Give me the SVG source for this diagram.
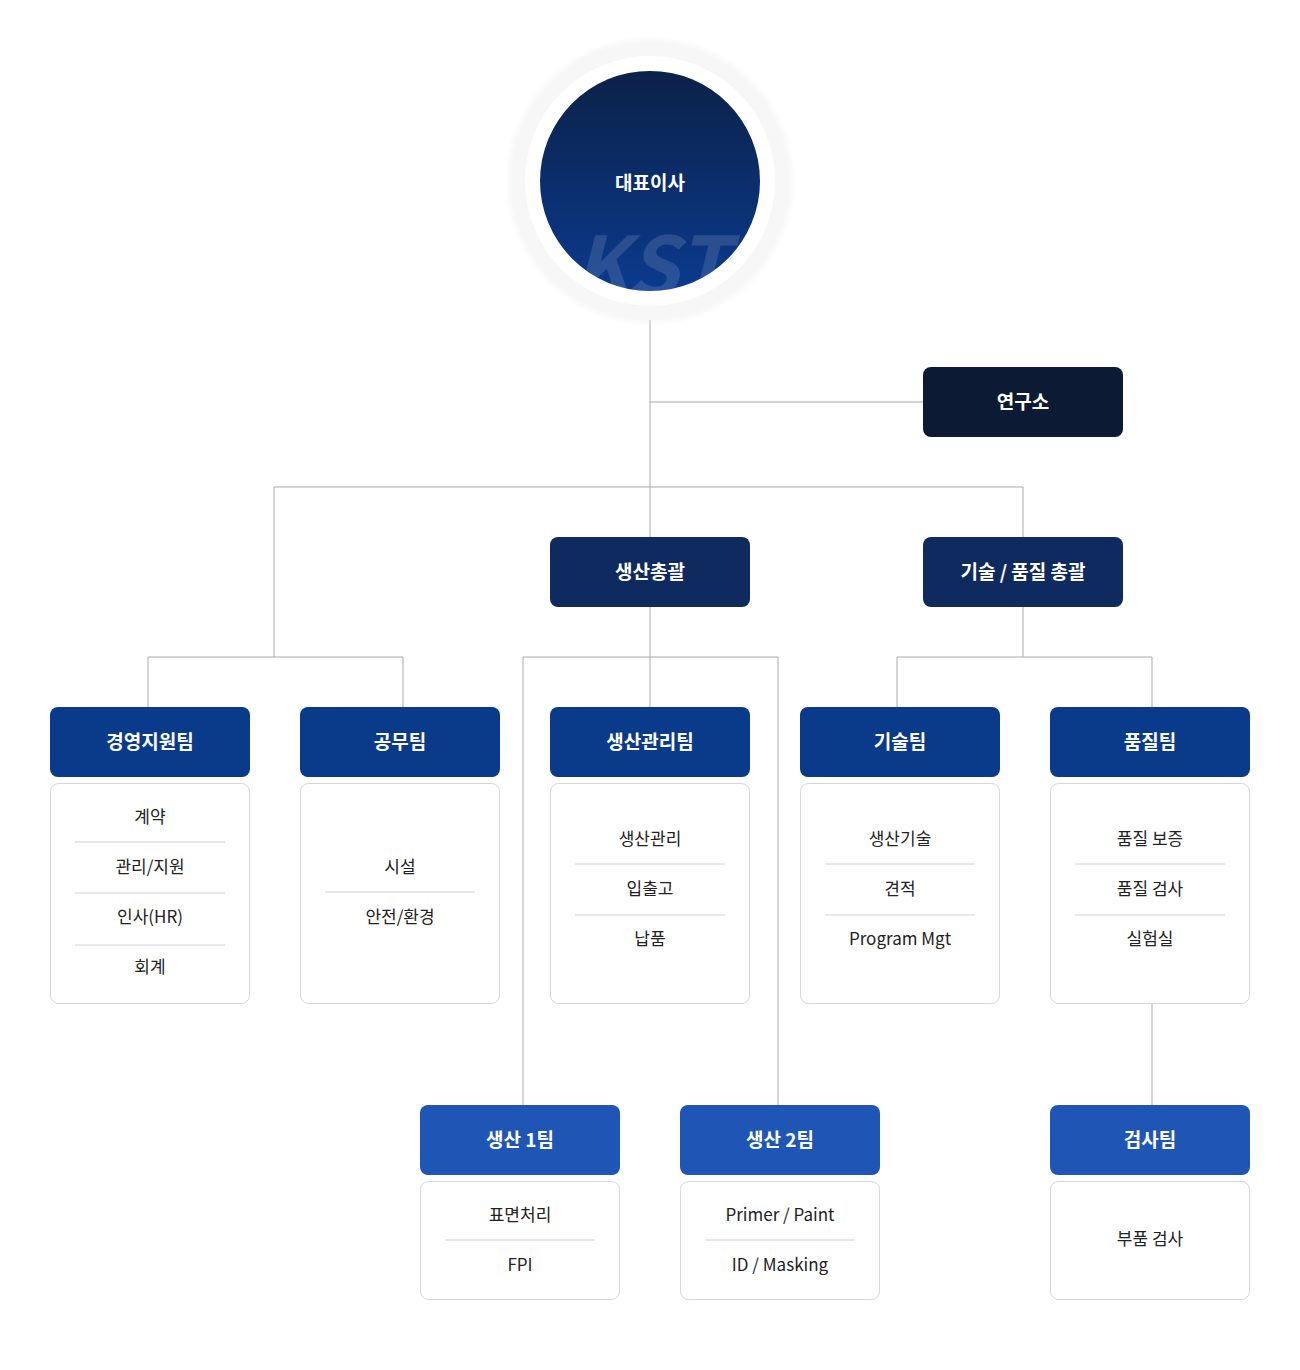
<svg xmlns="http://www.w3.org/2000/svg" width="1300" height="1370" viewBox="0 0 1300 1370">
<defs>
<style>
text{font-family:"Noto Sans CJK KR","Noto Sans",sans-serif;text-anchor:middle}
.h{fill:#fff;font-size:19px;font-weight:700}
.i{fill:#222;font-size:17px}
.d{fill:#fff;stroke:#d4d6da;stroke-width:1}
.s{stroke:#cfd2d6;stroke-width:1}
.c path{fill:none;stroke:#a8abb0;stroke-width:1}
</style>
<linearGradient id="g" x1="0" y1="0" x2="0" y2="1"><stop offset="0" stop-color="#0b2148"/><stop offset="1" stop-color="#0b3a8e"/></linearGradient>
<radialGradient id="sh"><stop offset="0.85" stop-color="#e6e8ec"/><stop offset="1" stop-color="#e6e8ec" stop-opacity="0"/></radialGradient>
<clipPath id="cc"><circle cx="650" cy="181" r="110"/></clipPath>
</defs>
<rect width="1300" height="1370" fill="#fff"/>
<g class="c">
<path d="M650 320V707M650 402H923M274 487H1023M274 487V657M148 657H403M148 657V707M403 657V707M1023 487V537M1023 607V657M897 657H1152M897 657V707M1152 657V707M523 657H778M523 657V1105M778 657V1105M1152 1004V1105"/>
</g>
<g id="ceo">
<circle cx="650" cy="181" r="146" fill="url(#sh)"/>
<circle cx="650" cy="181" r="138" fill="#f7f7f8"/>
<circle cx="650" cy="181" r="125" fill="#fff"/>
<circle cx="650" cy="181" r="110" fill="url(#g)"/>
<g clip-path="url(#cc)"><text x="650" y="296" font-family="Liberation Sans" font-size="82" font-weight="700" font-style="italic" fill="#fff" fill-opacity="0.13">KST</text></g>
<text x="650" y="190" class="h" font-size="24">대표이사</text>
</g>
<g id="lab"><rect x="923" y="367" width="200" height="70" rx="8" fill="#0c1a33"/><text x="1023" y="409" class="h">연구소</text></g>
<g id="prod"><rect x="550" y="537" width="200" height="70" rx="8" fill="#0f2a5e"/><text x="650" y="579" class="h">생산총괄</text></g>
<g id="tech"><rect x="923" y="537" width="200" height="70" rx="8" fill="#0f2a5e"/><text x="1023" y="579" class="h">기술 / 품질 총괄</text></g>
<g id="mgmt"><rect x="50" y="707" width="200" height="70" rx="8" fill="#0a3a8a"/><text x="150" y="749" class="h">경영지원팀</text>
<rect class="d" x="50.5" y="783.5" width="199" height="220" rx="8"/>
<path class="s" d="M75 842H225M75 893H225M75 945H225"/>
<text x="150" y="823" class="i">계약</text><text x="150" y="873" class="i">관리/지원</text><text x="150" y="923" class="i">인사(HR)</text><text x="150" y="973" class="i">회계</text></g>
<g id="works"><rect x="300" y="707" width="200" height="70" rx="8" fill="#0a3a8a"/><text x="400" y="749" class="h">공무팀</text>
<rect class="d" x="300.5" y="783.5" width="199" height="220" rx="8"/>
<path class="s" d="M325 892H475"/>
<text x="400" y="873" class="i">시설</text><text x="400" y="923" class="i">안전/환경</text></g>
<g id="pm"><rect x="550" y="707" width="200" height="70" rx="8" fill="#0a3a8a"/><text x="650" y="749" class="h">생산관리팀</text>
<rect class="d" x="550.5" y="783.5" width="199" height="220" rx="8"/>
<path class="s" d="M575 864H725M575 915H725"/>
<text x="650" y="845" class="i">생산관리</text><text x="650" y="895" class="i">입출고</text><text x="650" y="945" class="i">납품</text></g>
<g id="eng"><rect x="800" y="707" width="200" height="70" rx="8" fill="#0a3a8a"/><text x="900" y="749" class="h">기술팀</text>
<rect class="d" x="800.5" y="783.5" width="199" height="220" rx="8"/>
<path class="s" d="M825 864H975M825 915H975"/>
<text x="900" y="845" class="i">생산기술</text><text x="900" y="895" class="i">견적</text><text x="900" y="945" class="i">Program Mgt</text></g>
<g id="qa"><rect x="1050" y="707" width="200" height="70" rx="8" fill="#0a3a8a"/><text x="1150" y="749" class="h">품질팀</text>
<rect class="d" x="1050.5" y="783.5" width="199" height="220" rx="8"/>
<path class="s" d="M1075 864H1225M1075 915H1225"/>
<text x="1150" y="845" class="i">품질 보증</text><text x="1150" y="895" class="i">품질 검사</text><text x="1150" y="945" class="i">실험실</text></g>
<g id="p1"><rect x="420" y="1105" width="200" height="70" rx="8" fill="#1f56b5"/><text x="520" y="1147" class="h">생산 1팀</text>
<rect class="d" x="420.5" y="1181.5" width="199" height="118" rx="8"/>
<path class="s" d="M445 1240H595"/>
<text x="520" y="1221" class="i">표면처리</text><text x="520" y="1271" class="i">FPI</text></g>
<g id="p2"><rect x="680" y="1105" width="200" height="70" rx="8" fill="#1f56b5"/><text x="780" y="1147" class="h">생산 2팀</text>
<rect class="d" x="680.5" y="1181.5" width="199" height="118" rx="8"/>
<path class="s" d="M705 1240H855"/>
<text x="780" y="1221" class="i">Primer / Paint</text><text x="780" y="1271" class="i">ID / Masking</text></g>
<g id="insp"><rect x="1050" y="1105" width="200" height="70" rx="8" fill="#1f56b5"/><text x="1150" y="1147" class="h">검사팀</text>
<rect class="d" x="1050.5" y="1181.5" width="199" height="118" rx="8"/>
<text x="1150" y="1245" class="i">부품 검사</text></g>
</svg>
